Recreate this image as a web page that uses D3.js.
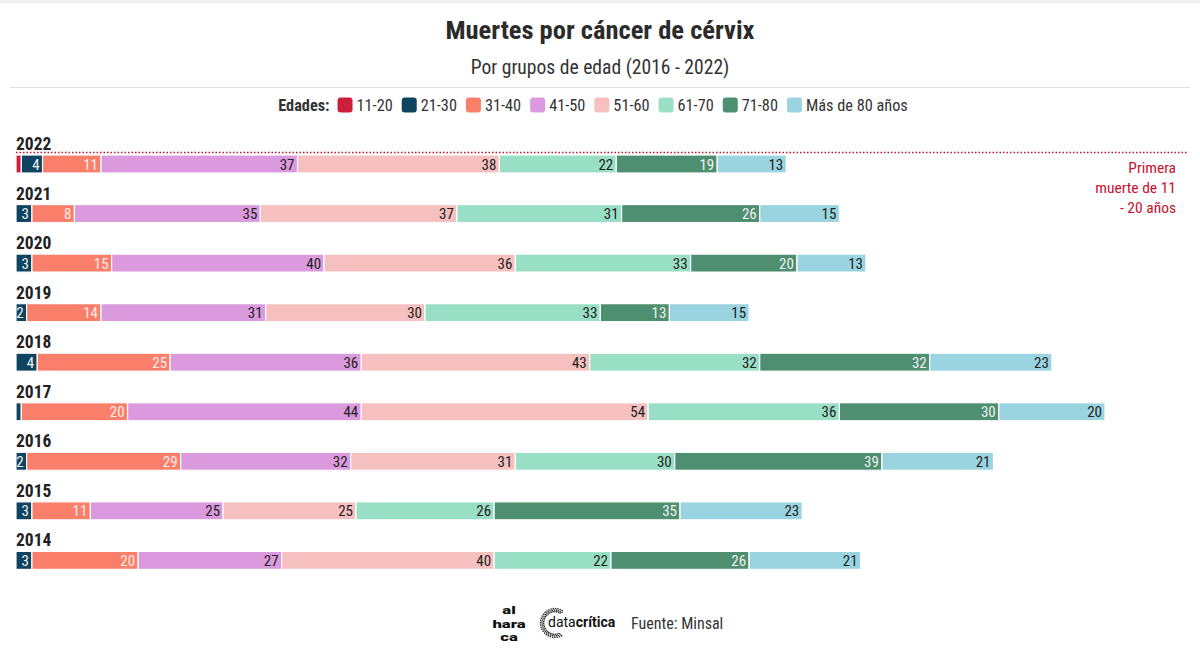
<!DOCTYPE html>
<html><head><meta charset="utf-8">
<script src="https://cdn.jsdelivr.net/npm/d3@7"></script>
<style>
html,body{margin:0;padding:0;background:#fff;}
svg{display:block;font-family:Roboto,'Roboto Condensed','Liberation Sans Narrow',sans-serif;font-stretch:80%;}
</style></head><body>
<svg id="chart" width="1200" height="655"></svg>
<script>
const years = ["2022","2021","2020","2019","2018","2017","2016","2015","2014"];
const groups = ["11-20","21-30","31-40","41-50","51-60","61-70","71-80","Más de 80 años"];
const colors = ["#cc1f3e","#0f4461","#fa7f6b","#dc9ade","#f5c0bf","#99dfc5","#4e8f71","#9ad4e0"];
const labelColors = ["#fff","#f2f2f2","#fbeeea","#222","#222","#222","#f0f0f0","#222"];
const v1120 = [1,0,0,0,0,0,0,0,0];
const v2130 = [4,3,3,2,4,1,2,3,3];
const v3140 = [11,8,15,14,25,20,29,11,20];
const v4150 = [37,35,40,31,36,44,32,25,27];
const v5160 = [38,37,36,30,43,54,31,25,40];
const v6170 = [22,31,33,33,32,36,30,26,22];
const v7180 = [19,26,20,13,32,30,39,35,26];
const v80plus = [13,15,13,15,23,20,21,23,21];
const title = "Muertes por cáncer de cérvix";
const subtitle = "Por grupos de edad (2016 - 2022)";
const legendTitle = "Edades:";
const annotation = ["Primera","muerte de 11","- 20 años"];
const source = "Fuente: Minsal";

const series = [v1120,v2130,v3140,v4150,v5160,v6170,v7180,v80plus];
const rows = years.map((y,i)=>{const o={year:y};groups.forEach((g,k)=>o[g]=series[k][i]);return o;});
const stack = d3.stack().keys(groups)(rows);

const svg = d3.select("#chart");
svg.append("rect").attr("x",0).attr("y",0).attr("width",1200).attr("height",3).attr("fill","#eef0f2");

svg.append("text").attr("x",600).attr("y",39).attr("text-anchor","middle")
  .attr("font-size",26.5).attr("font-weight",700).attr("fill","#2b2b2b").text(title);
svg.append("text").attr("x",600).attr("y",74).attr("text-anchor","middle")
  .attr("font-size",19.6).attr("fill","#333").text(subtitle);
svg.append("line").attr("x1",10).attr("x2",1190).attr("y1",87.5).attr("y2",87.5)
  .attr("stroke","#e2e2e2").attr("stroke-width",1);

// legend
const leg = svg.append("g");
let lx = 0;
const lt = leg.append("text").attr("x",0).attr("y",111).attr("font-size",16.3).attr("font-weight",700).attr("fill","#333").text(legendTitle);
lx = lt.node().getComputedTextLength() + 8;
groups.forEach((g,k)=>{
  leg.append("rect").attr("x",lx).attr("y",97.5).attr("width",15).attr("height",15).attr("rx",3).attr("fill",colors[k]);
  const t = leg.append("text").attr("x",lx+19).attr("y",111).attr("font-size",16.3).attr("fill","#333").text(g);
  lx += 19 + t.node().getComputedTextLength() + 9;
});
lx -= 9;
leg.attr("transform",`translate(${(1200-lx)/2 - 7},0)`);

// scales
const x = d3.scaleLinear().domain([0,205]).range([16,1105]);
const y = d3.scaleBand().domain(years).range([130,130+9*49.55]);
const barH = 18, barOff = 25;

// year labels
svg.append("g").selectAll("text").data(years).join("text")
  .attr("x",16).attr("y",d=>y(d)+20).attr("font-size",17.5).attr("font-weight",700).attr("fill","#222").text(d=>d);

// bars
const gBars = svg.append("g");
stack.forEach((s,k)=>{
  const g = gBars.append("g");
  g.selectAll("rect").data(s).join("rect")
    .attr("x",d=>x(d[0])).attr("y",d=>y(d.data.year)+barOff)
    .attr("width",d=>Math.max(0,x(d[1])-x(d[0])))
    .attr("height",barH).attr("fill",colors[k])
    .attr("stroke","#fff").attr("stroke-width",d=>(d[1]-d[0])>0?1.2:0);
  g.selectAll("text").data(s.filter(d=>d[1]-d[0]>1)).join("text")
    .attr("x",d=>x(d[1])-3).attr("y",d=>y(d.data.year)+barOff+barH/2+5.5)
    .attr("text-anchor","end").attr("font-size",15).attr("font-weight",400)
    .attr("fill",labelColors[k]).text(d=>d[1]-d[0]);
});

// annotation
svg.append("line").attr("x1",16).attr("x2",1188).attr("y1",y("2022")+22.5).attr("y2",y("2022")+22.5)
  .attr("stroke","#c8102e").attr("stroke-width",1.5).attr("stroke-dasharray","1.5,2");
svg.append("g").selectAll("text").data(annotation).join("text")
  .attr("x",1176).attr("y",(d,i)=>y("2022")+43+i*20).attr("text-anchor","end")
  .attr("font-size",15.5).attr("fill","#c8102e").text(d=>d);

// footer
const f = svg.append("g");
["al","hara","ca"].forEach((t,i)=>{
  f.append("text").attr("text-anchor","middle")
   .attr("transform",`translate(509,${614+i*13.5}) scale(1.45,1)`)
   .attr("font-size",11.5).attr("font-weight",900).attr("fill","#111").style("font-stretch","100%")
   .text(t);
});
// datacritica ring
const cx=555, cy=623, r=14.5;
const dots = d3.range(0,80).map(i=>(0.35 + i/80*1.35)*Math.PI);
f.append("g").selectAll("circle").data(dots).join("circle")
  .attr("cx",(a,i)=>cx + (r - (i%3)*1.6)*Math.cos(a))
  .attr("cy",(a,i)=>cy + (r - (i%3)*1.6)*Math.sin(a))
  .attr("r",0.8).attr("fill","#222");
const dt = f.append("text").attr("x",548).attr("y",627).attr("font-size",14).attr("fill","#111").style("font-stretch","100%");
dt.append("tspan").text("data");
dt.append("tspan").attr("font-weight",700).text("crítica");
f.append("text").attr("x",631).attr("y",629).attr("font-size",16).attr("fill","#333").text(source);
</script>
</body></html>
